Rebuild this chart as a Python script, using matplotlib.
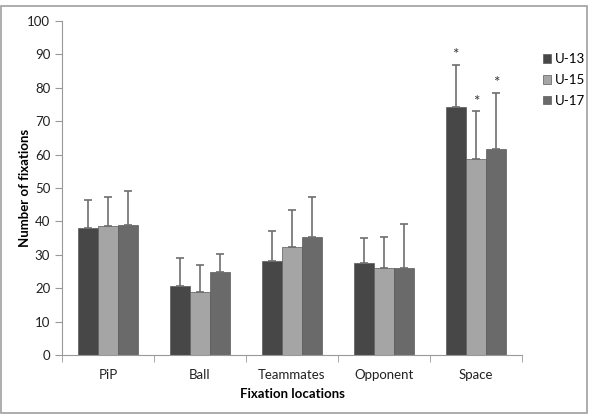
import matplotlib.pyplot as plt
import numpy as np
from matplotlib.patches import Rectangle

categories = ['PiP', 'Ball', 'Teammates', 'Opponent', 'Space']
groups = ['U-13', 'U-15', 'U-17']
u13 = [38.0, 20.8, 28.2, 27.5, 74.3]
u15 = [38.5, 19.0, 32.4, 26.0, 58.6]
u17 = [39.0, 24.8, 35.4, 25.9, 61.8]
u13_sd = [8.5, 8.2, 9.0, 7.5, 12.5]
u15_sd = [8.7, 8.0, 11.1, 9.2, 14.4]
u17_sd = [10.2, 5.4, 11.9, 13.4, 16.6]
star_cat = 'Space'

colors = ['#474747', '#a5a5a5', '#6a6a6a']

plt.rcParams['font.family'] = ['Lato', 'DejaVu Sans']

fig = plt.figure(figsize=(5.98, 4.16), dpi=100)
ax = fig.add_axes([62 / 598, 61 / 416, 460 / 598, 334 / 416])

# gray frame round the whole chart
fig.patches.append(Rectangle((1 / 598, 3 / 416), 586 / 598, 407 / 416,
                             transform=fig.transFigure, fill=False,
                             edgecolor='#a0a0a0', linewidth=1.2))

x = np.arange(len(categories))
w = 0.22
series = [u13, u15, u17]
sds = [u13_sd, u15_sd, u17_sd]
for i, (vals, sd) in enumerate(zip(series, sds)):
    pos = x + (i - 1) * w
    ax.bar(pos, vals, w, color=colors[i], edgecolor='#5a5a5a', linewidth=0.5,
           label=groups[i], zorder=2)
    ax.errorbar(pos, vals, yerr=[np.zeros(len(vals)), sd], fmt='none',
                ecolor='#6e6e6e', elinewidth=1.2, capsize=3, capthick=1.2, zorder=3)
    k = categories.index(star_cat)
    ax.text(pos[k], vals[k] + sd[k] + 0.8, '*', ha='center', va='bottom',
            fontsize=11, color='#333333')

ax.set_xlim(-0.5, len(categories) - 0.5)
ax.set_ylim(0, 100)
ax.set_yticks(np.arange(0, 101, 10))
ax.set_xticks(x)
ax.set_xticklabels(categories)
ax.set_xticks(np.arange(-0.5, len(categories)), minor=True)
ax.tick_params(axis='x', which='major', length=0, pad=10, labelsize=9.5, colors='#222222')
ax.tick_params(axis='x', which='minor', length=5, direction='out', color='#999999')
ax.tick_params(axis='y', length=5, direction='out', labelsize=9.5,
               colors='#999999', labelcolor='#222222')
for s in ['top', 'right']:
    ax.spines[s].set_visible(False)
for s in ['left', 'bottom']:
    ax.spines[s].set_color('#999999')

ax.set_xlabel('Fixation locations', fontsize=9.5, fontweight='bold', labelpad=5)
ax.set_ylabel('Number of fixations', fontsize=9.5, fontweight='bold', labelpad=-3)

leg = ax.legend(loc='upper left', bbox_to_anchor=(1.034, 0.92), frameon=False,
                fontsize=9.5, handlelength=0.6, handleheight=0.6, handletextpad=0.3,
                labelspacing=0.68, borderaxespad=0)

fig.savefig('out.png', dpi=100)
